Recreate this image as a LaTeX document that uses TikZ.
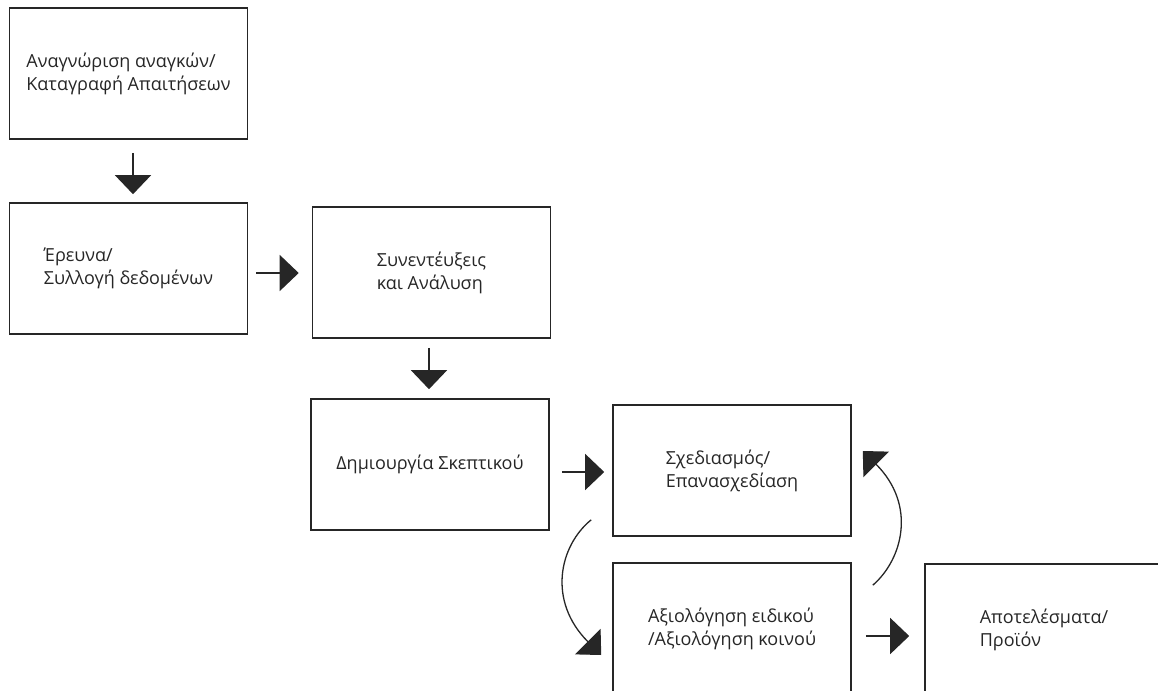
\documentclass[tikz,border=0pt]{standalone}
\usepackage{fontspec}
\setmainfont{Open Sans}
\usetikzlibrary{arrows.meta, positioning}

\tikzset{
  stage/.style={draw=black!85, line width=1.6pt, minimum width=238pt, minimum height=131pt,
    inner sep=0pt, align=left, text=black!85, font=\fontsize{18}{23}\selectfont},
  flow/.style={draw=black!85, line width=1.3pt, -{Triangle[width=36pt, length=19pt]}},
}

\begin{document}
\begin{tikzpicture}[x=1pt, y=-1pt]
\clip (0,0) rectangle (1158,690);

\node[stage] (needs) at (128.5,73.5) {Αναγνώριση αναγκών/\\Καταγραφή Απαιτήσεων};
\node[stage] (research) at (128.5,268.5) {Έρευνα/\\Συλλογή δεδομένων};
\node[stage] (interviews) at (431.5,272.5) {Συνεντέυξεις\\και Ανάλυση};
\node[stage] (rationale) at (430,464.5) {Δημιουργία Σκεπτικού};
\node[stage] (design) at (732,470.5) {Σχεδιασμός/\\Επανασχεδίαση};
\node[stage] (evaluate) at (732,628.5) {Αξιολόγηση ειδικού\\/Αξιολόγηση κοινού};
\node[stage] (results) at (1044,629.5) {Αποτελέσματα/\\Προϊόν};

\draw[flow, shorten <=13pt, shorten >=8pt] ([xshift=4.5pt]needs.south) -- ([xshift=4.5pt]research.north);
\draw[flow, shorten <=8pt, shorten >=13pt] ([yshift=-4.5pt]research.east) -- ([yshift=-4.5pt]research.east -| interviews.west);
\draw[flow, shorten <=9pt, shorten >=9pt] ([xshift=-2.5pt]interviews.south) -- ([xshift=-2.5pt]interviews.south |- rationale.north);
\draw[flow, shorten <=12pt, shorten >=8pt] ([yshift=-7.5pt]rationale.east) -- ([yshift=-7.5pt]rationale.east -| design.west);
\draw[flow, shorten <=14pt, shorten >=15pt] ([yshift=-7.5pt]evaluate.east) -- ([yshift=-7.5pt]evaluate.east -| results.west);

\draw[flow] ([xshift=-21pt, yshift=17pt]design.south west) .. controls +(-32,26) and +(-54,-54) .. ([xshift=-11pt, yshift=-26.5pt]evaluate.west);
\draw[flow] ([xshift=21pt, yshift=-23pt]evaluate.north east) .. controls +(30,-26) and +(54,54) .. ([xshift=11pt, yshift=19.5pt]design.east);

\end{tikzpicture}
\end{document}
